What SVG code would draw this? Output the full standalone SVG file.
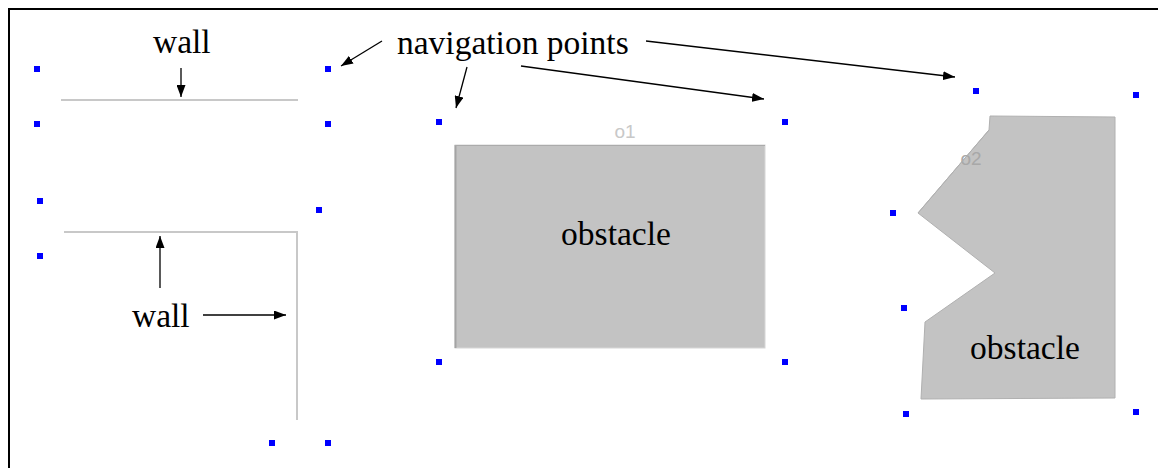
<svg xmlns="http://www.w3.org/2000/svg" width="1158" height="468" viewBox="0 0 1158 468">
<style>
.lbl{font-family:"Liberation Serif","Times New Roman",serif;font-size:33.5px;fill:#000}
.tag{font-family:"Liberation Sans",Arial,sans-serif;font-size:19px}
.np{fill:#0000ff}
.wall{stroke:#c8c8c8;stroke-width:2;fill:none}
.arr{stroke:#000;stroke-width:1.3;fill:none;marker-end:url(#ah)}
</style>
<defs>
<marker id="ah" viewBox="0 0 12 9" refX="12" refY="4.5" markerWidth="12" markerHeight="9" markerUnits="userSpaceOnUse" orient="auto">
<path d="M0,0 L12,4.5 L0,9 z" fill="#000"/>
</marker>
</defs>
<rect width="1158" height="468" fill="#fff"/>
<g id="frame">
<line x1="8" y1="9" x2="1158" y2="9" stroke="#000" stroke-width="2"/>
<line x1="9" y1="8" x2="9" y2="468" stroke="#000" stroke-width="2"/>
</g>
<g id="wall1"><line class="wall" x1="61" y1="100" x2="298" y2="100"/></g>
<g id="wall2"><polyline class="wall" points="64,232 297,232 297,420"/></g>
<g id="obstacle1">
<rect x="455" y="145" width="310" height="203" fill="#c3c3c3" stroke="#d6d6d6" stroke-width="1"/>
<line x1="455.5" y1="145" x2="455.5" y2="348" stroke="#a4a4a4" stroke-width="2"/>
<line x1="455" y1="145.5" x2="765" y2="145.5" stroke="#ababab" stroke-width="1"/>
<text class="tag" x="625" y="138" text-anchor="middle" fill="#c8c8c8">o1</text>
<text class="lbl" x="616" y="245" text-anchor="middle">obstacle</text>
</g>
<g id="obstacle2">
<polygon points="990,116 1115,117 1115,398 921,399 925,322 995,273 918,213 989,130" fill="#c3c3c3" stroke="#b0b0b0" stroke-width="1"/>
<text class="tag" x="971" y="165" text-anchor="middle" fill="#a8a8a8">o2</text>
<line x1="989" y1="130" x2="918" y2="213" stroke="#b0b0b0" stroke-width="1"/>
<text class="lbl" x="1025" y="359" text-anchor="middle">obstacle</text>
</g>
<g id="navpoints">
<rect class="np" x="34" y="66" width="6" height="6"/>
<rect class="np" x="325" y="66" width="6" height="6"/>
<rect class="np" x="34" y="121" width="6" height="6"/>
<rect class="np" x="325" y="121" width="6" height="6"/>
<rect class="np" x="37" y="198" width="6" height="6"/>
<rect class="np" x="316" y="207" width="6" height="6"/>
<rect class="np" x="37" y="253" width="6" height="6"/>
<rect class="np" x="269" y="440" width="6" height="6"/>
<rect class="np" x="325" y="440" width="6" height="6"/>
<rect class="np" x="436" y="119" width="6" height="6"/>
<rect class="np" x="782" y="119" width="6" height="6"/>
<rect class="np" x="436" y="359" width="6" height="6"/>
<rect class="np" x="782" y="359" width="6" height="6"/>
<rect class="np" x="973" y="88" width="6" height="6"/>
<rect class="np" x="1133" y="92" width="6" height="6"/>
<rect class="np" x="890" y="210" width="6" height="6"/>
<rect class="np" x="901" y="305" width="6" height="6"/>
<rect class="np" x="903" y="411" width="6" height="6"/>
<rect class="np" x="1133" y="409" width="6" height="6"/>
</g>
<g id="labels">
<text class="lbl" x="153" y="53">wall</text>
<text class="lbl" x="397" y="54">navigation points</text>
<text class="lbl" x="132" y="327">wall</text>
</g>
<g id="connectors">
<line class="arr" x1="181" y1="68" x2="181" y2="97"/>
<line class="arr" x1="382" y1="41" x2="341" y2="66"/>
<line class="arr" x1="467" y1="67" x2="456" y2="108"/>
<line class="arr" x1="521" y1="66" x2="764" y2="99"/>
<line class="arr" x1="646" y1="41" x2="955" y2="77"/>
<line class="arr" x1="160" y1="288" x2="160" y2="236"/>
<line class="arr" x1="203" y1="315" x2="286" y2="315"/>
</g>
</svg>
